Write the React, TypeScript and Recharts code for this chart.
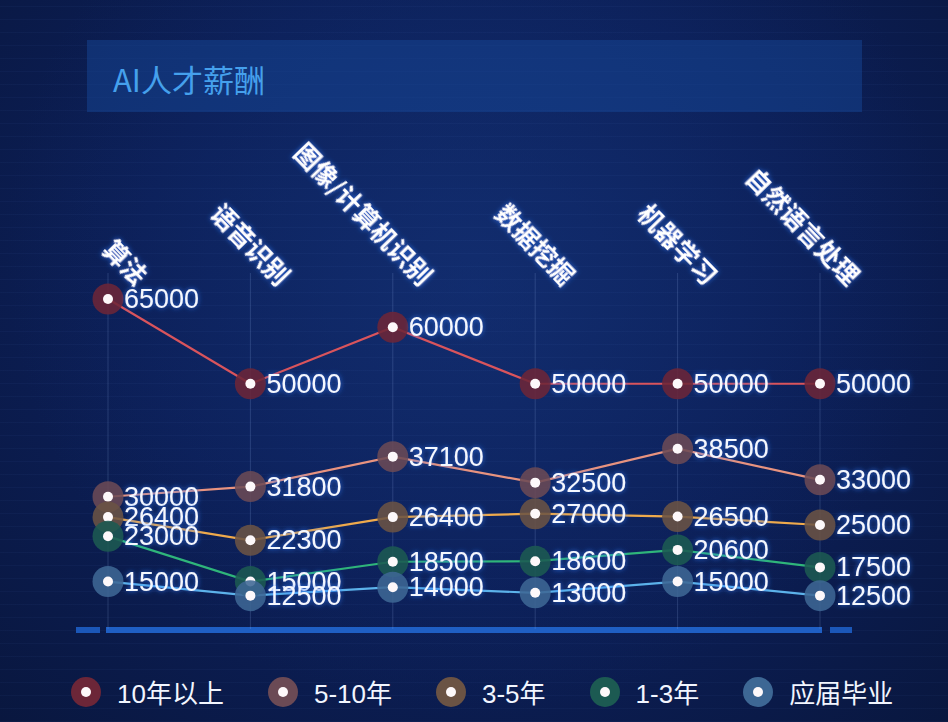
import React from 'react'
import { LineChart, Line, XAxis, YAxis, CartesianGrid, LabelList } from 'recharts'

const categories = ['算法', '语音识别', '图像/计算机识别', '数据挖掘', '机器学习', '自然语言处理']
const over10 = [65000, 50000, 60000, 50000, 50000, 50000]
const y5to10 = [30000, 31800, 37100, 32500, 38500, 33000]
const y3to5 = [26400, 22300, 26400, 27000, 26500, 25000]
const y1to3 = [23000, 15000, 18500, 18600, 20600, 17500]
const fresh = [15000, 12500, 14000, 13000, 15000, 12500]

const seriesNames = ['10年以上', '5-10年', '3-5年', '1-3年', '应届毕业']
const seriesKeys = ['over10', 'y5to10', 'y3to5', 'y1to3', 'fresh']
const lineColors = ['#d9545c', '#e8937f', '#efaa4c', '#2fb57a', '#5cb2ea']
const haloColors = ['#6c2638', '#6b4a55', '#6b5344', '#1c5a52', '#3d6794']

const data = categories.map((name, i) => ({
  name,
  over10: over10[i],
  y5to10: y5to10[i],
  y3to5: y3to5[i],
  y1to3: y1to3[i],
  fresh: fresh[i],
}))

const FONT = '"Liberation Sans", Arial, "Noto Sans CJK SC", sans-serif'

const makeDot = (halo: string) => (props: any) => {
  const { cx, cy, index } = props
  return (
    <g key={`dot-${halo}-${index}`}>
      <circle cx={cx} cy={cy} r={15.5} fill={halo} fillOpacity={0.88} />
      <circle cx={cx} cy={cy} r={5} fill="#fdf8fa" />
    </g>
  )
}

const renderValue = (props: any) => {
  const { x, y, value } = props
  return (
    <text x={x + 16} y={y + 9} fill="#f4f8ff" fontSize={27} fontFamily={FONT} filter="url(#glow)">
      {value}
    </text>
  )
}

const CategoryTick = ({ x, payload }: any) => (
  <text
    transform={`translate(${x + 28},${287}) rotate(46)`}
    textAnchor="end"
    fill="#ffffff"
    fontSize={25}
    fontWeight={700}
    fontFamily='"Noto Sans CJK SC", sans-serif'
    filter="url(#glow)"
  >
    {payload.value}
  </text>
)

function ChartLegend() {
  return (
    <div
      style={{
        position: 'absolute',
        left: 71,
        top: 673,
        display: 'flex',
        alignItems: 'center',
        fontFamily: FONT,
      }}
    >
      {seriesNames.map((name, i) => (
        <div key={name} style={{ display: 'flex', alignItems: 'center', marginRight: 44 }}>
          <span
            style={{
              width: 30,
              height: 30,
              borderRadius: 15,
              background: haloColors[i],
              display: 'flex',
              alignItems: 'center',
              justifyContent: 'center',
            }}
          >
            <span style={{ width: 10, height: 10, borderRadius: 5, background: '#fdf8fa' }} />
          </span>
          <span style={{ marginLeft: 16, color: '#f2f6ff', fontSize: 26 }}>{name}</span>
        </div>
      ))}
    </div>
  )
}

export default function App() {
  return (
    <div
      style={{
        position: 'absolute',
        left: 0,
        top: 0,
        width: 948,
        height: 722,
        overflow: 'hidden',
        background:
          'repeating-linear-gradient(0deg, rgba(90,130,210,0.05) 0px, rgba(90,130,210,0.05) 1px, transparent 1px, transparent 13px), radial-gradient(ellipse at 50% 35%, #12307280 0%, transparent 70%), radial-gradient(ellipse at 50% 40%, #11296a 0%, #0c1f58 50%, #09173f 100%)',
        fontFamily: FONT,
      }}
    >
      {/* title bar */}
      <div
        style={{
          position: 'absolute',
          left: 87,
          top: 40,
          width: 775,
          height: 72,
          background: 'rgba(22,70,150,0.5)',
        }}
      >
        <span
          style={{
            position: 'absolute',
            left: 26,
            top: 16,
            fontSize: 31,
            color: '#45a0ec',
            fontFamily: '"Noto Sans CJK SC", sans-serif',
          }}
        >
          AI人才薪酬
        </span>
      </div>

      {/* bottom axis bar */}
      <div style={{ position: 'absolute', left: 76, top: 627, width: 24, height: 6, background: '#1b57b8' }} />
      <div style={{ position: 'absolute', left: 106, top: 627, width: 716, height: 6, background: '#1f5fc4' }} />
      <div style={{ position: 'absolute', left: 830, top: 627, width: 22, height: 6, background: '#1b57b8' }} />

      <LineChart
        width={948}
        height={722}
        data={data}
        margin={{ top: 243, right: 128, bottom: 93, left: 108 }}
        style={{ position: 'absolute', left: 0, top: 0 }}
      >
        <defs>
          <filter id="glow" x="-20%" y="-50%" width="140%" height="200%">
            <feGaussianBlur in="SourceAlpha" stdDeviation="2.5" result="blur" />
            <feFlood floodColor="#2f7dff" floodOpacity="0.85" />
            <feComposite in2="blur" operator="in" result="glow" />
            <feMerge>
              <feMergeNode in="glow" />
              <feMergeNode in="SourceGraphic" />
            </feMerge>
          </filter>
        </defs>
        <CartesianGrid horizontal={false} stroke="rgba(150,180,235,0.2)" />
        <XAxis
          dataKey="name"
          orientation="top"
          height={30}
          axisLine={false}
          tickLine={false}
          interval={0}
          tick={<CategoryTick />}
        />
        <YAxis hide domain={[6600, 69600]} />
        {seriesKeys.map((key, i) => (
          <Line
            key={key}
            dataKey={key}
            name={seriesNames[i]}
            stroke={lineColors[i]}
            strokeWidth={2.2}
            dot={makeDot(haloColors[i])}
            activeDot={false}
            isAnimationActive={false}
          >
            <LabelList dataKey={key} content={renderValue} />
          </Line>
        ))}
      </LineChart>

      <ChartLegend />
    </div>
  )
}
